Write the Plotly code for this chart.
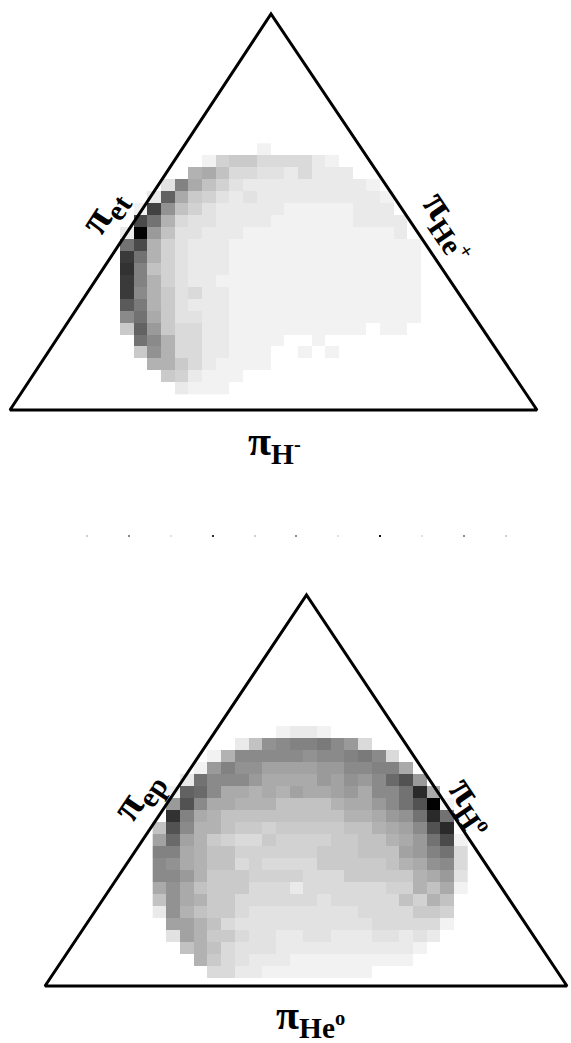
import plotly.graph_objects as go

# ---------------------------------------------------------------
# Density maps, one character per cell, rows top -> bottom.
# '.' = empty cell, otherwise a base-32 digit: level 1 ('1') .. 31 ('v')
# Spaces only group the columns in fives for readability.
# ---------------------------------------------------------------
TOP_ROWS = [
    "..... ..... 1.... ..... ..",
    "..... .1566 44442 1.... ..",
    "..... 9a744 33242 22... ..",
    "...3f a7532 22222 2221. ..",
    "..2ja 65323 22222 22221 ..",
    ".1nd7 53222 22111 11222 ..",
    ".mh94 33222 21111 11222 2.",
    "2vc73 32221 11111 11111 2.",
    "hm953 22211 11111 11111 11",
    "oh953 22211 11111 11111 11",
    "pf753 22211 11111 11111 11",
    "of953 22111 11111 11111 11",
    "oe963 42211 11111 11111 11",
    "kg963 22211 11111 11111 11",
    "eha63 32211 11111 11111 11",
    "6jc64 42211 11111 111.1 1.",
    ".he94 42211 11..1 ..... ..",
    ".6d94 42211 1..1. 1.... ..",
    "..996 42111 1.... ..... ..",
    "...65 2111. ..... ..... ..",
    "....2 111.. ..... ..... ..",
]

BOTTOM_ROWS = [
    "..... ....1 221.. ..... ...",
    "..... .27de ffgec 4.... ...",
    "....1 9eeee edeef ge4.. ...",
    "...1c fddbb bbcce effa. ...",
    "..2he eecaa aacbd ceilc ...",
    ".1jie aa9a9 baabc aeehq a..",
    ".clea a9997 7779a acehl v1.",
    ".pfa9 77777 77779 9acdh qh.",
    "7le99 76656 66667 79abe lq.",
    "bib96 54465 55566 779ac hm1",
    "ffa97 75555 55666 777bc fh4",
    "eda97 74544 44666 6679a de4",
    "eec96 66555 54446 66669 ac3",
    "ada76 66444 24444 44559 7a1",
    "7da96 64444 44344 44475 97.",
    "2d976 64333 33333 44446 65.",
    ".bb97 43333 33333 34444 41.",
    ".3b96 64332 23322 23323 2..",
    "..797 43332 22222 22221 ...",
    "...96 43222 11111 1111. ...",
    "....4 42211 11111 1.... ...",
]

# Triangle frames (page coordinates, y grows downward)
TOP_TRI_X = [10, 271, 537]
TOP_TRI_Y = [410, 14, 410]
BOT_TRI_X = [45, 306.5, 567]
BOT_TRI_Y = [986, 595, 986]

# Separator dots between the two panels
DOT_X = [87, 129, 171, 213, 255, 296, 338, 380, 422, 464, 506]
DOT_SHADE = ["#cfcfcf", "#8a8a8a", "#e0e0e0", "#303030", "#cfcfcf", "#8a8a8a",
             "#e0e0e0", "#101010", "#e0e0e0", "#8a8a8a", "#cfcfcf"]
DOT_Y = 536

LEVEL_MAX = 31.25
FONT = "Liberation Serif, Times New Roman, serif"


def decode(rows):
    grid = []
    for row in rows:
        cells = row.replace(" ", "")
        grid.append([None if ch == "." else int(ch, 32) for ch in cells])
    return grid


def density_trace(rows, left, top, cell_w, cell_h):
    return go.Heatmap(
        z=decode(rows),
        x0=left + cell_w / 2, dx=cell_w,
        y0=top + cell_h / 2, dy=cell_h,
        zmin=0, zmax=LEVEL_MAX,
        colorscale=[[0, "rgb(250,250,250)"], [1, "rgb(0,0,0)"]],
        showscale=False, hoverinfo="skip", zsmooth=False,
    )


def frame_trace(xs, ys):
    # walk past the start vertex so every corner gets a mitred join
    return go.Scatter(
        x=xs + xs[:2], y=ys + ys[:2], mode="lines",
        line=dict(color="black", width=3), hoverinfo="skip",
    )


fig = go.Figure()
fig.add_trace(density_trace(TOP_ROWS, 120.0, 143.3, 13.7, 11.95))
fig.add_trace(density_trace(BOTTOM_ROWS, 152.7, 726.0, 13.68, 12.0))
fig.add_trace(frame_trace(TOP_TRI_X, TOP_TRI_Y))
fig.add_trace(frame_trace(BOT_TRI_X, BOT_TRI_Y))
fig.add_trace(go.Scatter(
    x=DOT_X, y=[DOT_Y] * len(DOT_X), mode="markers",
    marker=dict(symbol="square", size=2, color=DOT_SHADE, line=dict(width=0)),
    hoverinfo="skip",
))

labels = [
    ("π<sub>et</sub>", 104, 212, -57),
    ("π<sub>He<sup>+</sup></sub>", 450, 226, 56),
    ("π<sub>H<sup>-</sup></sub>", 274, 444, 0),
    ("π<sub>ep</sub>", 138, 796, -56),
    ("π<sub>H<sup>o</sup></sub>", 472, 806, 56),
    ("π<sub>He<sup>o</sup></sub>", 310, 1018, 0),
]
for text, x, y, ang in labels:
    fig.add_annotation(
        x=x, y=y, xref="x", yref="y", text="<b>" + text + "</b>",
        showarrow=False, textangle=ang, xanchor="center", yanchor="middle",
        font=dict(family=FONT, size=42, color="black"),
    )

fig.update_layout(
    width=571, height=1043,
    margin=dict(l=0, r=0, t=0, b=0),
    paper_bgcolor="white", plot_bgcolor="white",
    showlegend=False,
    xaxis=dict(range=[0, 571], visible=False, fixedrange=True),
    yaxis=dict(range=[1043, 0], visible=False, fixedrange=True),
)

fig.write_html("out.html")
